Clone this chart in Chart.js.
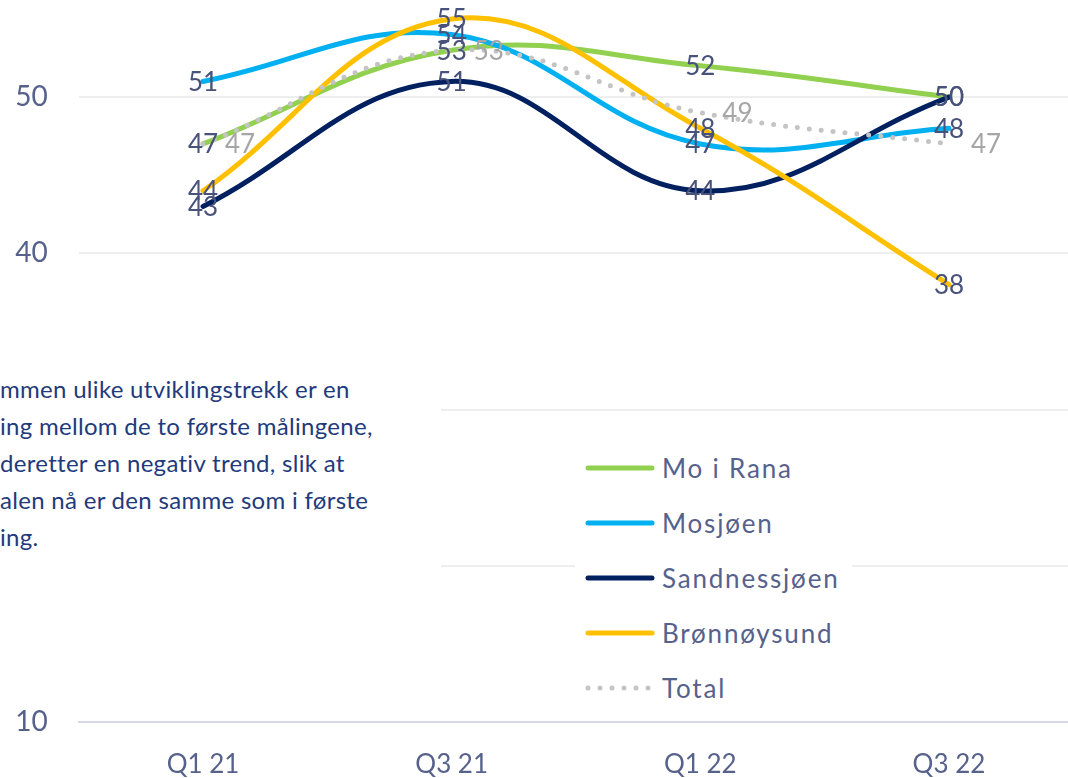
<!DOCTYPE html>
<html><head><meta charset="utf-8">
<script src="https://cdn.jsdelivr.net/npm/chart.js@4/dist/chart.umd.min.js"></script>
<style>
html,body{margin:0;padding:0;background:#fff;overflow:hidden;width:1068px;height:778px;position:relative;}
#wrap{position:absolute;left:0;top:-80px;width:1080px;height:880px;}
#note{position:absolute;left:0;top:365px;width:441px;height:235px;background:#fff;font-family:Lato,sans-serif;font-size:24px;letter-spacing:0.3px;line-height:37px;color:#1F3A7D;white-space:nowrap;overflow:hidden;padding-top:5px;box-sizing:border-box;}
#legend{position:absolute;left:575px;top:440px;width:277px;height:275px;background:#fff;}
.row{height:55px;display:flex;align-items:center;}
.sample{margin-left:10px;width:70px;height:16px;margin-right:7px;}
.ltxt{font-family:Lato,sans-serif;font-size:26px;letter-spacing:1.8px;color:#56618C;}
</style></head>
<body>
<div id="wrap"><canvas id="c"></canvas></div>
<div id="note">mmen ulike utviklingstrekk er en<br>ing mellom de to første målingene,<br>deretter en negativ trend, slik at<br>alen nå er den samme som i første<br>ing.</div>
<div id="legend"></div>
<script>
const categories = ['Q1 21', 'Q3 21', 'Q1 22', 'Q3 22'];
const seriesNames = ['Mo i Rana', 'Mosjøen', 'Sandnessjøen', 'Brønnøysund', 'Total'];
const moIRana = [47, 53, 52, 50];
const mosjoen = [51, 54, 47, 48];
const sandnessjoen = [43, 51, 44, 50];
const bronnoysund = [44, 55, 48, 38];
const total = [47, 53, 49, 47];
const yTicks = [10, 20, 30, 40, 50, 60];

const colors = ['#92D050', '#00B0F0', '#002060', '#FFC000', '#C4C4C4'];
const values = [moIRana, mosjoen, sandnessjoen, bronnoysund, total];

const datasets = values.map((v, i) => ({
  label: seriesNames[i],
  data: v,
  borderColor: colors[i],
  backgroundColor: colors[i],
  borderWidth: 5,
  pointRadius: 0,
  pointHoverRadius: 0,
  tension: 0.4,
  fill: false,
  order: values.length - i,
  borderCapStyle: 'round',
  borderDash: i === 4 ? [0, 12] : [],
  labelColor: i === 4 ? '#A6A6A6' : '#48527A',
  labelRight: i === 4
}));

const labelPlugin = {
  id: 'dl',
  afterDatasetsDraw(chart) {
    const ctx = chart.ctx;
    ctx.save();
    ctx.font = '26px Lato, sans-serif';
    ctx.textBaseline = 'middle';
    chart.data.datasets.forEach((ds, i) => {
      const meta = chart.getDatasetMeta(i);
      meta.data.forEach((pt, j) => {
        ctx.fillStyle = ds.labelColor;
        if (ds.labelRight) { ctx.textAlign = 'left'; ctx.fillText(String(ds.data[j]), pt.x + 22, pt.y + 1); }
        else { ctx.textAlign = 'center'; ctx.fillText(String(ds.data[j]), pt.x, pt.y + 1); }
      });
    });
    ctx.restore();
  }
};

const chart = new Chart(document.getElementById('c'), {
  type: 'line',
  data: { labels: categories, datasets },
  options: {
    responsive: true,
    maintainAspectRatio: false,
    animation: false,
    layout: { padding: { left: 0, right: 6.7, top: 0, bottom: 0 } },
    plugins: { legend: { display: false }, tooltip: { enabled: false } },
    scales: {
      x: {
        offset: true,
        grid: { display: false, drawTicks: false },
        border: { display: true, color: '#D5D9E5', width: 2 },
        ticks: { font: { family: 'Lato', size: 26 }, color: '#56618C', padding: 27 }
      },
      y: {
        min: 10, max: 60,
        afterFit: s => { s.width = 78.7; },
        afterBuildTicks: s => { s.ticks = yTicks.map(v => ({ value: v })); },
        grid: { color: '#EEEEEE', lineWidth: 2, drawTicks: false },
        border: { display: false },
        ticks: { font: { family: 'Lato', size: 28 }, color: '#56618C', padding: 31, stepSize: 10 }
      }
    }
  },
  plugins: [labelPlugin]
});

// size/position the canvas so that 10..60 spans 781.25px and value 10 sits at page y=722
(function fit() {
  const wrap = document.getElementById('wrap');
  const ca = chart.chartArea;
  const delta = 781.25 - (ca.bottom - ca.top);
  wrap.style.height = (880 + delta) + 'px';
  chart.resize();
  const bottom10 = chart.scales.y.getPixelForValue(10);
  wrap.style.top = (722 - bottom10) + 'px';
})();

// legend built from datasets
const leg = document.getElementById('legend');
chart.data.datasets.forEach((ds, i) => {
  const row = document.createElement('div'); row.className = 'row';
  const svgNS = 'http://www.w3.org/2000/svg';
  const svg = document.createElementNS(svgNS, 'svg');
  svg.setAttribute('class', 'sample'); svg.setAttribute('width', '70'); svg.setAttribute('height', '16');
  const ln = document.createElementNS(svgNS, 'line');
  ln.setAttribute('x1', '3'); ln.setAttribute('x2', i === 4 ? '65' : '67');
  ln.setAttribute('y1', '8'); ln.setAttribute('y2', '8');
  ln.setAttribute('stroke', ds.borderColor); ln.setAttribute('stroke-width', '5');
  ln.setAttribute('stroke-linecap', 'round');
  if (i === 4) ln.setAttribute('stroke-dasharray', '0 12');
  svg.appendChild(ln);
  const t = document.createElement('span'); t.className = 'ltxt'; t.textContent = ds.label;
  row.appendChild(svg); row.appendChild(t); leg.appendChild(row);
});
</script>
</body></html>
